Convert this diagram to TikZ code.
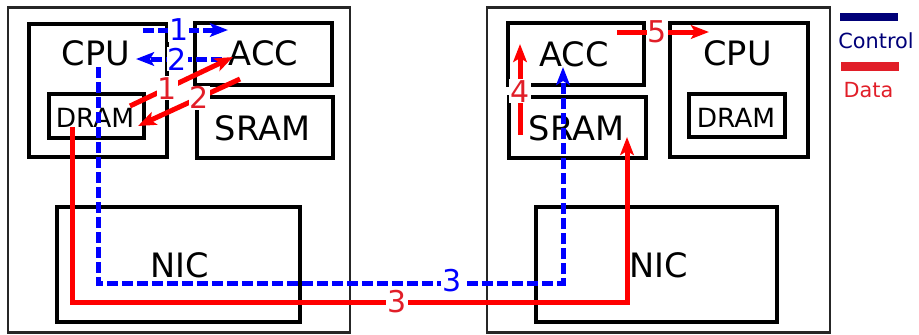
\documentclass[tikz,border=0pt]{standalone}
\usepackage{fontspec}
\setmainfont{DejaVu Sans}
\usetikzlibrary{arrows.meta}
\definecolor{labred}{RGB}{225,30,40}
\definecolor{navy}{RGB}{0,0,120}
\begin{document}
\begin{tikzpicture}[x=0.5pt,y=-0.5pt,
  outerbox/.style={draw=black!85, line width=1.3pt, inner sep=0},
  inbox/.style={draw=black, line width=2pt, inner sep=0},
  big/.style={font=\fontsize{16.8}{19}\selectfont, anchor=base, inner sep=0},
  small/.style={font=\fontsize{13.2}{15}\selectfont, anchor=base, inner sep=0},
  ctl/.style={blue, line width=2.5pt, dash pattern=on 5.5pt off 2pt},
  dat/.style={red, line width=2.5pt},
  arr/.style={-{Stealth[length=9pt,width=6.8pt,inset=2pt]}},
  numb/.style={font=\fontsize{15}{18}\selectfont, fill=white, inner sep=0.5pt},
  legtxt/.style={font=\fontsize{10.4}{12}\selectfont, anchor=base, inner sep=0}]
\useasboundingbox (0,0) rectangle (919,334);
% servers
\node[outerbox, minimum width=171pt, minimum height=162.5pt] (lsrv) at (179,170) {};
\node[outerbox, minimum width=171.5pt, minimum height=162.5pt] (rsrv) at (658.5,170) {};
% left server boxes
\node[inbox, minimum width=69pt, minimum height=66.5pt] (lcpu) at (98,90.5) {};
\node[inbox, minimum width=47.5pt, minimum height=22pt] (ldram) at (96.5,116) {};
\node[inbox, minimum width=68.5pt, minimum height=31pt] (lacc) at (263.5,54) {};
\node[inbox, minimum width=68pt, minimum height=30.5pt] (lsram) at (265,127.5) {};
\node[inbox, minimum width=121.5pt, minimum height=57.5pt] (lnic) at (178.5,264.5) {};
% right server boxes
\node[inbox, minimum width=68pt, minimum height=31pt] (racc) at (576,54) {};
\node[inbox, minimum width=68.5pt, minimum height=30.5pt] (rsram) at (577.5,127.5) {};
\node[inbox, minimum width=69pt, minimum height=67pt] (rcpu) at (739,90) {};
\node[inbox, minimum width=48pt, minimum height=21.5pt] (rdram) at (737,115.5) {};
\node[inbox, minimum width=120.5pt, minimum height=57.5pt] (rnic) at (656.5,264.5) {};
% texts
\node[big] (tlcpu) at (96,65) {CPU};
\node[big] (tlacc) at (263.5,65) {ACC};
\node[small] (tldram) at (95,127) {DRAM};
\node[big] (tlsram) at (262.5,140) {SRAM};
\node[big] (tlnic) at (179.5,277) {NIC};
\node[big] (tracc) at (574,66) {ACC};
\node[big] (trsram) at (576.5,140) {SRAM};
\node[big] (trcpu) at (737.5,65) {CPU};
\node[small] (trdram) at (736,127) {DRAM};
\node[big] (trnic) at (658.5,277) {NIC};
% coordinates
\coordinate (b1s) at (143,30);  \coordinate (b1e) at (228,30);
\coordinate (b2s) at (222,59);  \coordinate (b2e) at (136,59);
\coordinate (b3s) at (98,67);   \coordinate (b3m) at (563,283); \coordinate (b3e) at (563,67);
\coordinate (r1s) at (130,106); \coordinate (r1e) at (233,57);
\coordinate (r2s) at (240,79);  \coordinate (r2e) at (138,126);
\coordinate (r3s) at (72,127);  \coordinate (r3m) at (627,302); \coordinate (r3e) at (627,137);
\coordinate (r4s) at (520,135); \coordinate (r4e) at (520,44);
\coordinate (r5s) at (617,32);  \coordinate (r5e) at (709,32);
% control arrows
\draw[ctl,arr] (b1s) -- node[numb, text=blue, pos=0.42] (n1b) {1} (b1e);
\draw[ctl,arr] (b2s) -- node[numb, text=blue, pos=0.52] (n2b) {2} (b2e);
\draw[ctl,arr] (b3s) |- (b3m) -- (b3e);
% data arrows
\draw[dat,arr] (r1s) -- node[numb, text=labred, pos=0.36] (n1r) {1} (r1e);
\draw[dat,arr] (r2s) -- node[numb, text=labred, pos=0.4] (n2r) {2} (r2e);
\draw[dat,arr] (r3s) |- (r3m) -- (r3e);
\draw[dat,arr] (r4s) -- node[numb, text=labred, pos=0.48] (n4r) {4} (r4e);
\draw[dat,arr] (r5s) -- node[numb, text=labred, pos=0.44] (n5r) {5} (r5e);
\node[numb, text=blue] (n3b) at (452,281) {3};
\node[numb, text=labred] (n3r) at (397,302) {3};
% legend
\coordinate (lg1a) at (840,17); \coordinate (lg1b) at (898,17);
\coordinate (lg2a) at (841,66); \coordinate (lg2b) at (899,66);
\draw[navy, line width=4pt] (lg1a) -- (lg1b);
\node[legtxt, text=navy] (lgc) at (876,48) {Control};
\draw[labred, line width=4.5pt] (lg2a) -- (lg2b);
\node[legtxt, text=labred] (lgd) at (868.5,97) {Data};
\end{tikzpicture}
\end{document}
